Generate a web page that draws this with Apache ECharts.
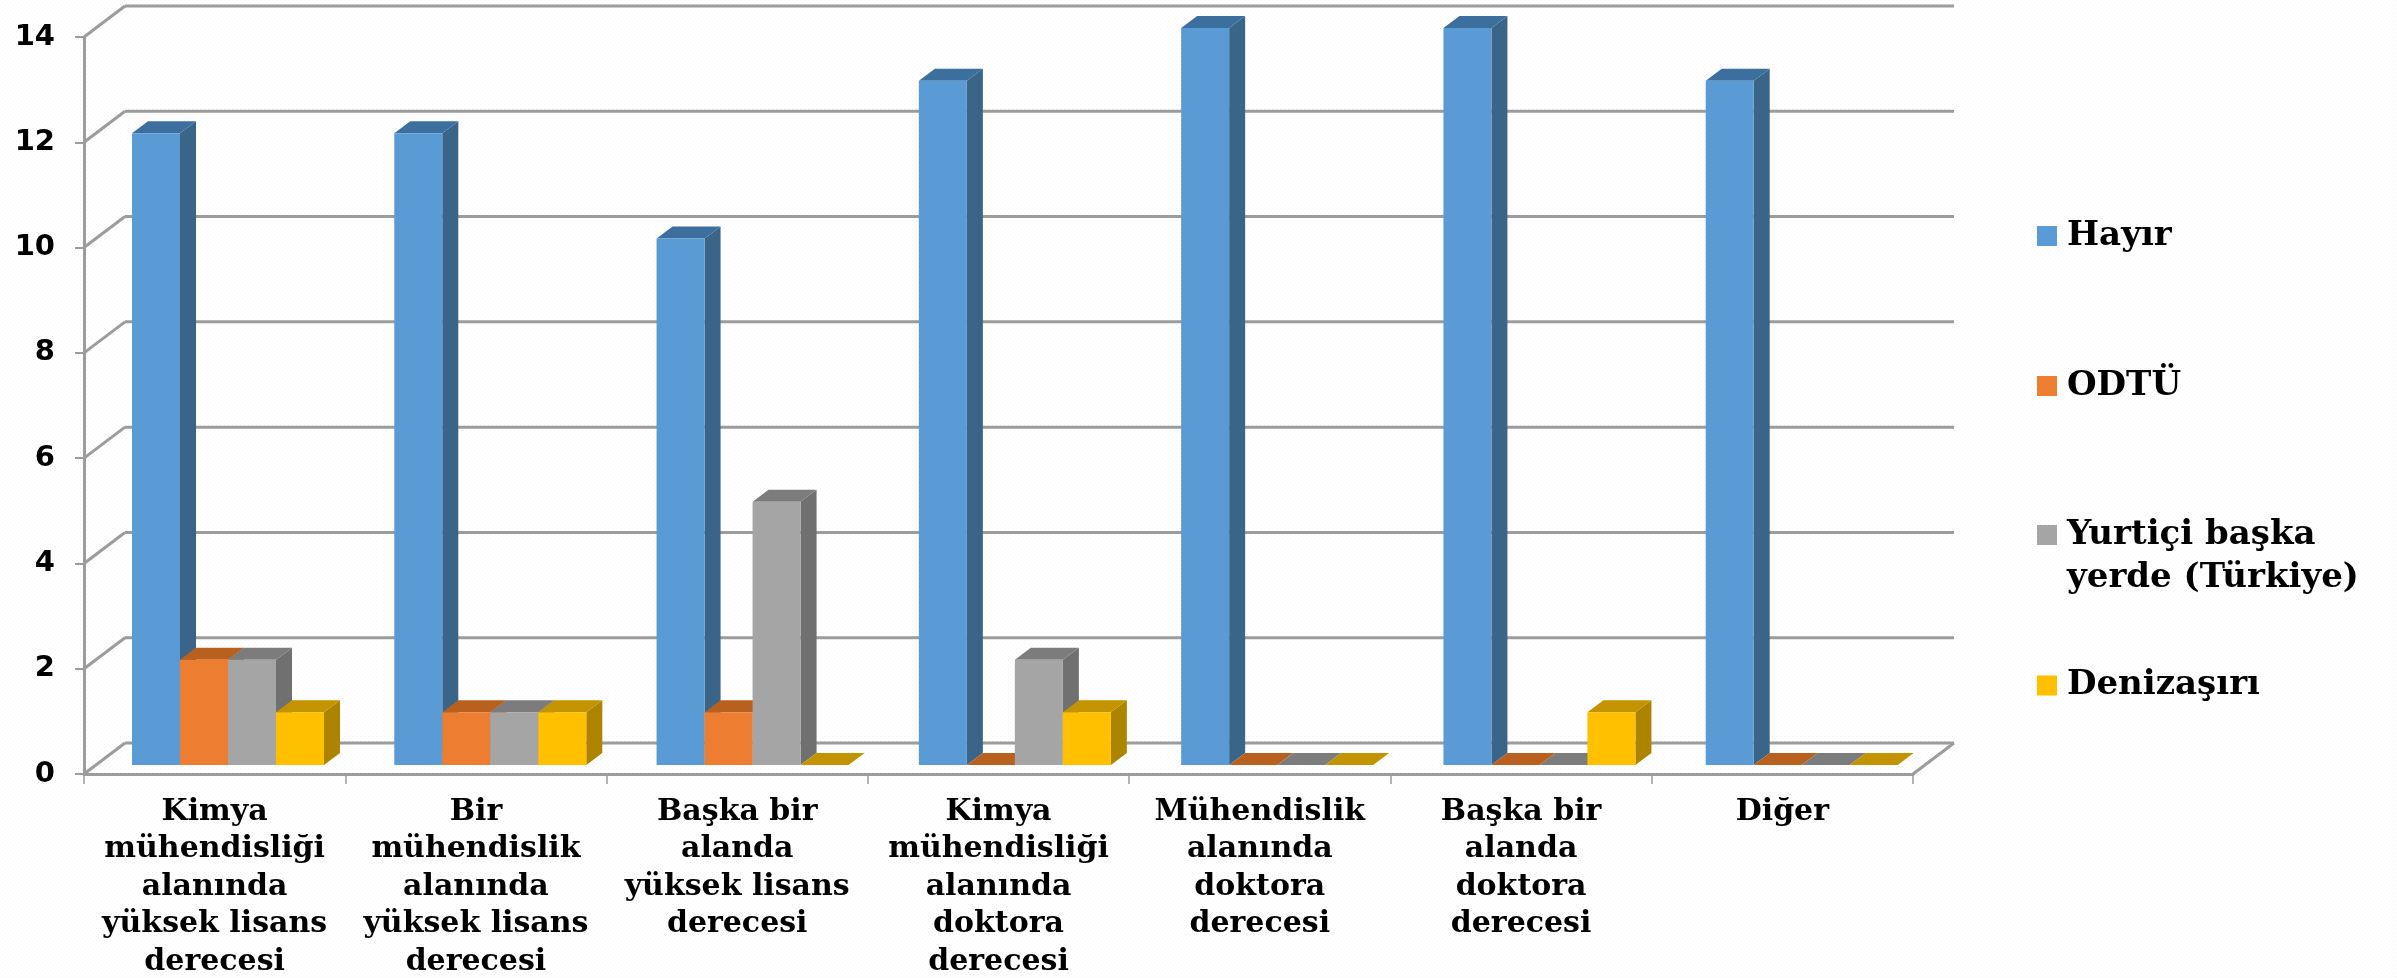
<!DOCTYPE html>
<html>
<head>
<meta charset="utf-8">
<style>html,body{margin:0;padding:0;background:#fff}#c{width:2397px;height:978px}</style>
<script src="https://cdn.jsdelivr.net/npm/echarts@6/dist/echarts.min.js"></script>
</head>
<body>
<div id="c"></div>
<script>
const categories = [
  'Kimya\nmühendisliği\nalanında\nyüksek lisans\nderecesi',
  'Bir\nmühendislik\nalanında\nyüksek lisans\nderecesi',
  'Başka bir\nalanda\nyüksek lisans\nderecesi',
  'Kimya\nmühendisliği\nalanında\ndoktora\nderecesi',
  'Mühendislik\nalanında\ndoktora\nderecesi',
  'Başka bir\nalanda\ndoktora\nderecesi',
  'Diğer'
];
const hayir = [12, 12, 10, 13, 14, 14, 13];
const odtu = [2, 1, 1, 0, 0, 0, 0];
const yurtici = [2, 1, 5, 2, 0, 0, 0];
const denizasiri = [1, 1, 0, 1, 0, 1, 0];
const yTicks = [0, 2, 4, 6, 8, 10, 12, 14];
const seriesNames = ['Hayır', 'ODTÜ', 'Yurtiçi başka yerde (Türkiye)', 'Denizaşırı'];
const seriesValues = [hayir, odtu, yurtici, denizasiri];
const frontColors = ['#5B9BD5', '#ED7D31', '#A5A5A5', '#FFC000'];
const topColors = ['#3D6F9E', '#B9601F', '#7C7C7C', '#C49300'];
const sideColors = ['#3A6589', '#A9561C', '#707070', '#AD8400'];

const FONT_SERIF = '"DejaVu Serif", serif';
const GRID = { left: 84, top: 37, width: 1829, height: 737 };
const WALL_DX = 41, WALL_DY = -31;
const BAR_W = 48, DEPTH_X = 16, DEPTH_Y = 12, BAR_LEFT = 48, BAR_DRIFT = 1, FLOOR_DY = -9;
const LINE = '#9C9C9C';

const tile = document.createElement('canvas');
tile.width = 4; tile.height = 4;
const tc = tile.getContext('2d');
tc.fillStyle = '#ffffff'; tc.fillRect(0, 0, 4, 4);
tc.fillStyle = '#f4f4f4'; tc.fillRect(0, 0, 1, 1); tc.fillRect(2, 2, 1, 1);

const chart = echarts.init(document.getElementById('c'), null, { renderer: 'canvas' });

function barSeries(si) {
  return {
    type: 'custom',
    name: seriesNames[si],
    coordinateSystem: 'cartesian2d',
    itemStyle: { color: frontColors[si] },
    z: 5,
    silent: true,
    data: seriesValues[si].map((v, i) => [i, v]),
    encode: { x: 0, y: 1 },
    renderItem(params, api) {
      const i = api.value(0), v = api.value(1);
      const band = api.size([1, 0])[0];
      const base = api.coord([i, 0]);
      const top = api.coord([i, v]);
      const x = base[0] - band / 2 + BAR_LEFT + BAR_DRIFT * i + si * BAR_W;
      const y0 = base[1] + FLOOR_DY, y1 = top[1] + FLOOR_DY;
      const poly = (pts, fill) => ({ type: 'polygon', shape: { points: pts }, style: { fill } });
      const kids = [
        poly([[x + BAR_W, y1], [x + BAR_W + DEPTH_X, y1 - DEPTH_Y], [x + BAR_W + DEPTH_X, y0 - DEPTH_Y], [x + BAR_W, y0]], sideColors[si]),
        poly([[x, y1], [x + DEPTH_X, y1 - DEPTH_Y], [x + BAR_W + DEPTH_X, y1 - DEPTH_Y], [x + BAR_W, y1]], topColors[si])
      ];
      if (v > 0) kids.push(poly([[x, y1], [x + BAR_W, y1], [x + BAR_W, y0], [x, y0]], frontColors[si]));
      return { type: 'group', children: kids };
    }
  };
}

const wallSeries = {
  type: 'custom',
  coordinateSystem: 'cartesian2d',
  silent: true,
  z: 1,
  clip: false,
  data: yTicks.map(v => [0, v]),
  encode: { y: 1 },
  renderItem(params, api) {
    const v = api.value(1);
    const band = api.size([1, 0])[0];
    const p = api.coord([0, v]);
    const xl = p[0] - band / 2;
    const xr = xl + band * categories.length;
    const style = { stroke: LINE, lineWidth: 3, fill: null };
    const kids = [
      { type: 'line', shape: { x1: xl, y1: p[1], x2: xl + WALL_DX, y2: p[1] + WALL_DY }, style },
      { type: 'line', shape: { x1: xl + WALL_DX, y1: p[1] + WALL_DY, x2: xr + WALL_DX, y2: p[1] + WALL_DY }, style }
    ];
    if (v === 0) kids.push({ type: 'line', shape: { x1: xr, y1: p[1], x2: xr + WALL_DX, y2: p[1] + WALL_DY }, style });
    return { type: 'group', children: kids };
  }
};

const legendTops = [214.5, 364.5, 470.5, 664];
chart.setOption({
  animation: false,
  backgroundColor: { image: tile, repeat: 'repeat' },
  grid: { left: GRID.left, top: GRID.top, width: GRID.width, height: GRID.height, containLabel: false, outerBoundsMode: 'none' },
  xAxis: {
    type: 'category',
    data: categories,
    boundaryGap: true,
    axisLine: { lineStyle: { color: LINE, width: 3 } },
    axisTick: { show: true, alignWithLabel: false, length: 10, lineStyle: { color: LINE, width: 1.5 } },
    axisLabel: {
      interval: 0, margin: 19, color: '#000', fontFamily: FONT_SERIF, fontWeight: 'bold',
      fontSize: 30, lineHeight: 37.5, align: 'center', verticalAlign: 'top'
    }
  },
  yAxis: {
    type: 'value', min: 0, max: 14, interval: 2,
    axisLine: { show: true, lineStyle: { color: LINE, width: 3 } },
    axisTick: { show: true, length: 9, lineStyle: { color: LINE, width: 2 } },
    splitLine: { show: false },
    axisLabel: { margin: 29, color: '#000', fontFamily: '"DejaVu Sans", sans-serif', fontWeight: 'bold', fontSize: 29 }
  },
  legend: seriesNames.map((n, i) => ({
    data: [n], left: 2037, top: legendTops[i], orient: 'vertical',
    icon: 'rect', itemWidth: 20, itemHeight: 20, selectedMode: false, padding: 0,
    textStyle: { color: '#000', fontFamily: FONT_SERIF, fontWeight: 'bold', fontSize: 34, lineHeight: 43, padding: [0, 0, 0, 5] },
    formatter: name => name.startsWith('Yurtiçi') ? '\nYurtiçi başka\nyerde (Türkiye)' : name
  })),
  series: [wallSeries].concat(seriesNames.map((_, i) => barSeries(i)))
});
</script>
</body>
</html>
